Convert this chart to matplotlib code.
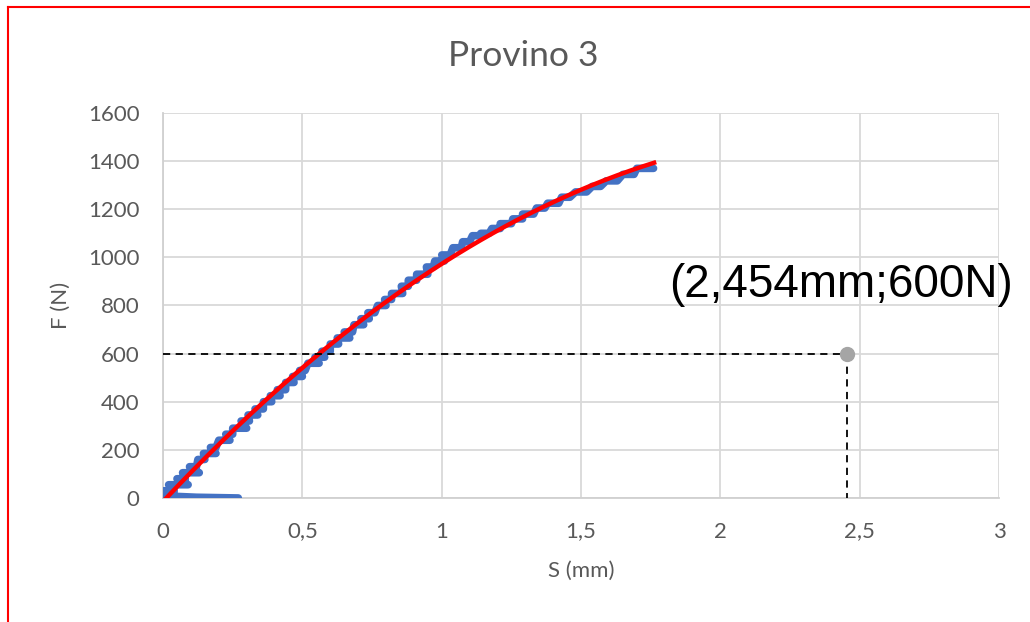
import matplotlib
matplotlib.use("Agg")
import matplotlib.pyplot as plt
import numpy as np
from matplotlib.lines import Line2D
from matplotlib.ticker import FuncFormatter

plt.rcParams['font.family'] = ['Lato', 'DejaVu Sans']

# blue test data: force plateaus (N) and the displacement span of each plateau (mm)
step_f = [30, 55, 80, 105, 130, 160, 185, 210, 240, 265, 290, 320, 345, 370,
          400, 425, 450, 480, 505, 530, 560, 585, 610, 640, 665, 690, 720, 745,
          770, 800, 825, 850, 880, 905, 930, 960, 985, 1010, 1040, 1065, 1090,
          1100, 1120, 1140, 1160, 1180, 1205, 1225, 1250, 1272, 1295, 1318, 1345, 1370]
step_x0 = [0.0, 0.02, 0.05, 0.07, 0.095, 0.125, 0.145, 0.17, 0.20, 0.225, 0.25,
           0.28, 0.305, 0.33, 0.36, 0.385, 0.41, 0.44, 0.465, 0.49, 0.52, 0.545,
           0.57, 0.60, 0.625, 0.65, 0.685, 0.71, 0.735, 0.77, 0.795, 0.82, 0.855,
           0.88, 0.91, 0.945, 0.975, 1.00, 1.04, 1.075, 1.11, 1.14, 1.18, 1.21,
           1.255, 1.29, 1.34, 1.38, 1.43, 1.48, 1.54, 1.59, 1.65, 1.70]
step_x1 = [0.04, 0.09, 0.08, 0.13, 0.12, 0.15, 0.19, 0.19, 0.24, 0.25, 0.30,
           0.31, 0.34, 0.36, 0.39, 0.42, 0.44, 0.47, 0.50, 0.51, 0.56, 0.58,
           0.60, 0.63, 0.67, 0.68, 0.72, 0.74, 0.76, 0.80, 0.82, 0.86, 0.88,
           0.91, 0.95, 0.97, 1.01, 1.03, 1.07, 1.10, 1.15, 1.17, 1.21, 1.25,
           1.29, 1.33, 1.37, 1.42, 1.46, 1.52, 1.57, 1.63, 1.69, 1.76]
# initial settling segment along the bottom
start_x = [0.27, 0.12, 0.02, 0.0, 0.0]
start_f = [0, 3, 8, 15, 25]

# marked point
pt_s, pt_f = 2.454, 600
pt_label = "(2,454mm;600N)"

# build the staircase polyline
xs = list(start_x)
fs = list(start_f)
for f, a, b in zip(step_f, step_x0, step_x1):
    xs += [a, b]
    fs += [f, f]
xs = np.array(xs)
fs = np.array(fs)

fig = plt.figure(figsize=(10.30, 6.22), dpi=100)
ax = fig.add_axes([0.1583, 0.1994, 0.8117, 0.6189])

ax.plot(xs, fs, color='#4472C4', lw=5.5, solid_capstyle='round', zorder=3)

# polynomial trendline (2nd order) on the loading part
load_x = xs[len(start_x) - 1:]
load_f = fs[len(start_f) - 1:]
coef = np.polyfit(load_x, load_f, 2)
tx = np.linspace(0, 1.762, 200)
ax.plot(tx, np.polyval(coef, tx), color='#FF0000', lw=3.2, zorder=4)

ax.plot([0, pt_s], [pt_f, pt_f], color='black', ls=(0, (4, 3)), lw=1.3, zorder=5)
ax.plot([pt_s, pt_s], [pt_f, 0], color='black', ls=(0, (4, 3)), lw=1.3, zorder=5)
ax.plot([pt_s], [pt_f], 'o', color='#A5A5A5', ms=10, zorder=6)

ax.set_xlim(0, 3)
ax.set_ylim(0, 1600)
ax.set_xticks(np.arange(0, 3.01, 0.5))
ax.set_yticks(np.arange(0, 1601, 200))
ax.xaxis.set_major_formatter(FuncFormatter(lambda v, p: f"{v:g}".replace('.', ',')))
ax.grid(True, color='#D9D9D9', lw=1.3)
ax.set_axisbelow(True)
for s in ax.spines.values():
    s.set_visible(False)
ax.spines['left'].set_visible(True)
ax.spines['bottom'].set_visible(True)
ax.spines['left'].set_color('#D0D0D0')
ax.spines['bottom'].set_color('#D0D0D0')
ax.spines['left'].set_linewidth(1.3)
ax.spines['bottom'].set_linewidth(1.3)
ax.tick_params(length=0, labelsize=16, colors='#595959', pad=17)
ax.tick_params(axis='x', pad=17)

ax.set_xlabel("S (mm)", fontsize=16, color='#595959', labelpad=14)
ax.set_ylabel("F (N)", fontsize=16, color='#595959', labelpad=12)
fig.text(0.508, 0.91, "Provino 3", fontsize=25.5, color='#595959', ha='center', va='center')

fig.text(0.8165, 0.542, pt_label, fontsize=33,
         family=['Liberation Sans', 'DejaVu Sans'], color='black', ha='center', va='center')

# red frame of the original screenshot
fig.add_artist(Line2D([0.0078, 0.0078], [0, 0.989], transform=fig.transFigure, color='#FF0000', lw=1.5))
fig.add_artist(Line2D([0.0078, 1], [0.989, 0.989], transform=fig.transFigure, color='#FF0000', lw=1.5))

fig.savefig("out.png", dpi=100)
